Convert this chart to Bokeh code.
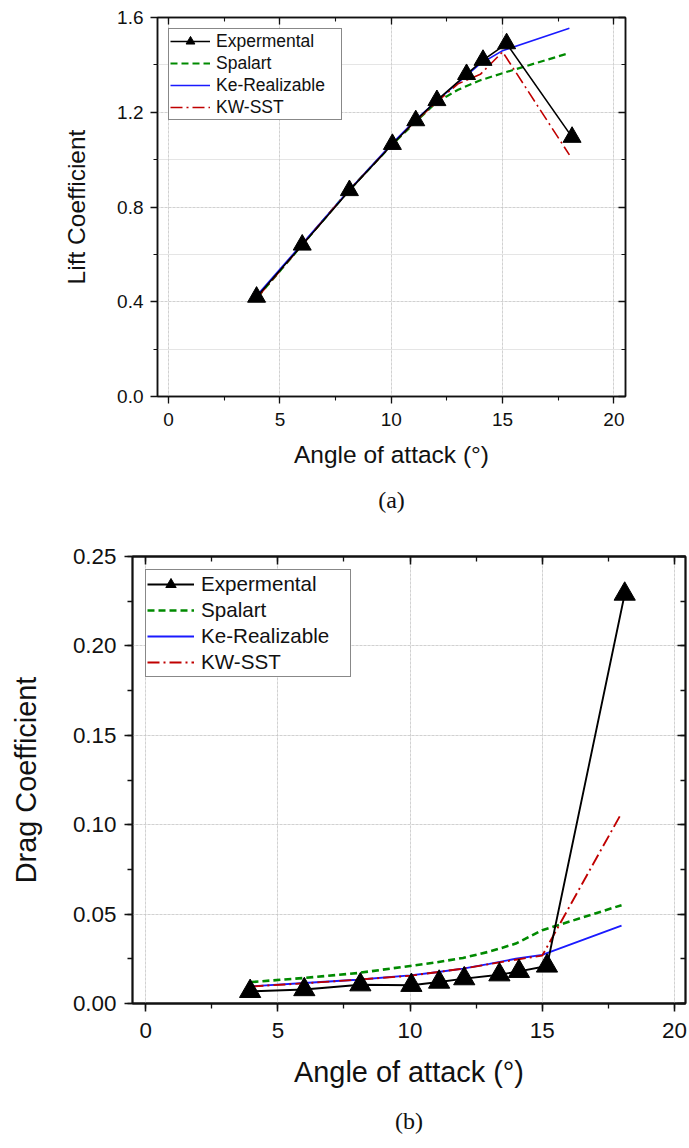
from bokeh.plotting import figure
from bokeh.models import (LinearAxis, SingleIntervalTicker, Grid, Legend, LegendItem,
                          Title, Range1d, NumeralTickFormatter)
from bokeh.embed import file_html
from bokeh.resources import INLINE

# Experimental angles and CFD angles (deg)
alpha_exp = [3.95, 6.0, 8.12, 10.05, 11.1, 12.05, 13.38, 14.12, 15.18, 18.12]
alpha_cfd = [4, 6, 8, 10, 11, 12, 13, 14, 15, 18]

# Lift coefficient
cl_exp = [0.42, 0.64, 0.87, 1.065, 1.165, 1.25, 1.36, 1.42, 1.49, 1.095]
cl_spalart = [0.42, 0.64, 0.86, 1.06, 1.15, 1.24, 1.295, 1.335, 1.365, 1.45]
cl_ke = [0.43, 0.645, 0.86, 1.065, 1.16, 1.245, 1.325, 1.405, 1.46, 1.555]
cl_kw = [0.42, 0.64, 0.86, 1.06, 1.155, 1.24, 1.32, 1.36, 1.455, 1.02]

# Drag coefficient
cd_exp = [0.0068, 0.0078, 0.0105, 0.0102, 0.012, 0.0139, 0.0161, 0.018, 0.021, 0.229]
cd_spalart = [0.012, 0.0143, 0.017, 0.021, 0.023, 0.0255, 0.029, 0.0335, 0.041, 0.055]
cd_ke = [0.0096, 0.0115, 0.0133, 0.0157, 0.0175, 0.0195, 0.0222, 0.025, 0.0272, 0.0435]
cd_kw = [0.0095, 0.0113, 0.0133, 0.0155, 0.0175, 0.0195, 0.022, 0.0245, 0.0268, 0.1065]

series_names = ["Expermental", "Spalart", "Ke-Realizable", "KW-SST"]
x_ticks_step = 5

SANS = "Liberation Sans"
SERIF = "Liberation Serif"
GREEN = "#008a00"
BLUE = "#1a1aff"
RED = "#c00000"


def build(height, borders, y_end, y_step, y_fmt, y_title, caption, data, s,
          legend_label_width, x_right, xlab_standoff, xtitle_standoff, cap_standoff):
    left, right, top, bottom = borders
    p = figure(width=689, height=height, output_backend="svg", toolbar_location=None,
               x_range=Range1d(-0.5, x_right), y_range=Range1d(0, y_end),
               min_border_left=left, min_border_right=right,
               min_border_top=top, min_border_bottom=bottom,
               x_axis_location=None, y_axis_location=None)
    p.outline_line_color = "#111111"
    p.outline_line_width = 1.5 * s
    p.background_fill_color = "white"
    p.border_fill_color = "white"

    xt = SingleIntervalTicker(interval=x_ticks_step, num_minor_ticks=2)
    yt = SingleIntervalTicker(interval=y_step, num_minor_ticks=2)

    for loc in ("below", "left", "above", "right"):
        horiz = loc in ("below", "above")
        ax = LinearAxis(ticker=xt if horiz else yt)
        ax.axis_line_color = "#111111"
        ax.axis_line_width = 1.5 * s
        ax.major_tick_line_color = "#111111"
        ax.minor_tick_line_color = "#111111"
        ax.major_tick_line_width = 1.3 * s
        ax.minor_tick_line_width = 1.1 * s
        if loc in ("below", "left"):
            ax.major_tick_out = round(7 * s)
            ax.major_tick_in = 0
            ax.minor_tick_out = round(4 * s)
            ax.minor_tick_in = 0
            ax.major_label_text_font = SANS
            ax.major_label_text_font_size = f"{19 * s:.1f}px"
            ax.major_label_text_color = "#111111"
            ax.axis_label_text_font = SANS
            ax.axis_label_text_font_style = "normal"
            ax.axis_label_text_font_size = f"{24.5 * s:.1f}px"
            ax.axis_label_text_color = "#111111"
            if horiz:
                ax.formatter = NumeralTickFormatter(format="0")
                ax.major_label_standoff = xlab_standoff
                ax.axis_label = "Angle of attack (°)"
                ax.axis_label_standoff = xtitle_standoff
            else:
                ax.formatter = NumeralTickFormatter(format=y_fmt)
                ax.major_label_standoff = round(7 * s)
                ax.axis_label = y_title
                ax.axis_label_standoff = round(24 * s)
        else:
            ax.major_tick_out = 0
            ax.major_tick_in = round(7 * s)
            ax.minor_tick_out = 0
            ax.minor_tick_in = round(4 * s)
            ax.major_label_text_font_size = "0px"
            ax.major_label_standoff = 0
            ax.major_label_text_color = None
        p.add_layout(ax, loc)

    for dim, t in ((0, xt), (1, yt)):
        p.add_layout(Grid(dimension=dim, ticker=t, grid_line_color="#bdbdbd",
                          grid_line_width=1, grid_line_dash="1 3"))

    y_exp, y_sp, y_ke, y_kw = data
    r_sp = p.line(alpha_cfd, y_sp, line_color=GREEN, line_width=2.2 * s, line_dash="7 4")
    r_ke = p.line(alpha_cfd, y_ke, line_color=BLUE, line_width=1.6 * s)
    r_kw = p.line(alpha_cfd, y_kw, line_color=RED, line_width=1.6 * s, line_dash="12 4 2 4")
    r_exl = p.line(alpha_exp, y_exp, line_color="black", line_width=1.6 * s)
    r_exm = p.scatter(alpha_exp, y_exp, marker="triangle", size=18 * s,
                      fill_color="black", line_color="black")

    gh = round(22 * s)
    legend = Legend(items=[
        LegendItem(label=series_names[0], renderers=[r_exl, r_exm]),
        LegendItem(label=series_names[1], renderers=[r_sp]),
        LegendItem(label=series_names[2], renderers=[r_ke]),
        LegendItem(label=series_names[3], renderers=[r_kw]),
    ], location="top_left", margin=round(11 * s), padding=1,
        glyph_width=round(40 * s), glyph_height=gh, label_height=gh,
        label_width=legend_label_width,
        spacing=0, label_standoff=round(6 * s),
        label_text_font=SANS, label_text_font_size=f"{17.5 * s:.1f}px",
        label_text_color="#111111",
        border_line_color="#111111", border_line_width=1.5 * s,
        background_fill_color="white", background_fill_alpha=1)
    p.add_layout(legend)

    cap = Title(text=caption, align="center", text_font=SERIF,
                text_font_size="24px", text_font_style="normal",
                text_color="#111111", standoff=cap_standoff)
    p.add_layout(cap, "below")
    return p


top = build(532, (157, 64, 17, 136), 1.6, 0.4, "0.0", "Lift Coefficient", "(a)",
            (cl_exp, cl_spalart, cl_ke, cl_kw), 1.0, 124, 20.52,
            9, 12, 29)
bottom = build(616, (132, 4, 24, 144), 0.25, 0.05, "0.00", "Drag Coefficient", "(b)",
               (cd_exp, cd_spalart, cd_ke, cd_kw), 1.18, 148, 20.42,
               11, 15, 30)

open("out.html", "w").write(file_html([top, bottom], INLINE))
